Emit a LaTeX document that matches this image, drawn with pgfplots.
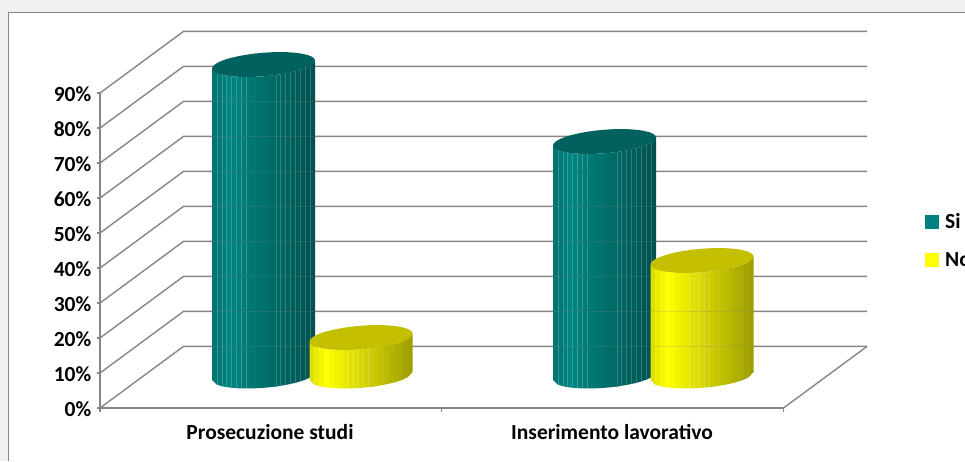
\documentclass[border=0pt]{standalone}
\usepackage{pgfplots}
\usepackage{pgfplotstable}
\usepackage{fontspec}
\setmainfont{Carlito}
\pgfplotsset{compat=1.18}

% Share of respondents per outcome and answer
\pgfplotstableread{
categoria Si No
0 89 11
1 67 33
}\valori

\definecolor{griglia}{HTML}{868686}
\definecolor{cornice}{HTML}{858585}
\definecolor{sfondo}{HTML}{F0F0F0}

% Scale of the oblique drawing: one percent is 3.5 units of height
\def\ypx{3.5}
\def\profx{83.5}   % horizontal depth of the floor
\def\profy{17.6}   % vertical depth of the floor, in percent
\def\basey{9.14}   % level of the centre of the cylinder bases
\def\semix{51.5}   % half width of a cylinder
\def\tilt{4}
\def\flat{11.8}

% #1 centre x, #2 value, #3 #4 #5 wall rgb, #6 #7 #8 cap rgb, #9 seam strength
\newcommand\cilindro[9]{%
  \foreach \i in {0,...,20}{%
    \pgfmathsetmacro\ua{-1+2*\i/21}%
    \pgfmathsetmacro\ub{-1+2*(\i+1)/21}%
    \pgfmathsetmacro\xa{#1+\semix*\ua}%
    \pgfmathsetmacro\xb{#1+\semix*\ub}%
    \pgfmathsetmacro\ya{\basey+(\tilt*\ua-\flat*sqrt(max(0,1-\ua*\ua)))/\ypx}%
    \pgfmathsetmacro\yb{\basey+(\tilt*\ub-\flat*sqrt(max(0,1-\ub*\ub)))/\ypx}%
    \pgfmathsetmacro\yc{\ya+#2}%
    \pgfmathsetmacro\yd{\yb+#2}%
    \pgfmathsetmacro\shade{\i<3 ? 0.88+0.04*\i : (\i<11 ? 1-0.0225*(\i-3) : 0.82-0.022*(\i-11))}%
    \pgfmathsetmacro\cr{#3*\shade}%
    \pgfmathsetmacro\cg{#4*\shade}%
    \pgfmathsetmacro\cb{#5*\shade}%
    \edef\next{\noexpand\addplot[forget plot,draw=none,fill={rgb,1:red,\cr;green,\cg;blue,\cb}]
      coordinates {(\xa,\ya)(\xb,\yb)(\xb,\yd)(\xa,\yc)} --cycle;}%
    \next
    % pale seams between the narrow facets near both edges
    \pgfmathparse{(\i>0 && \i<5) || \i>12 ? 1 : 0}%
    \ifnum\pgfmathresult=1
      \pgfmathsetmacro\lr{\cr*(1-#9)+#9}%
      \pgfmathsetmacro\lg{\cg*(1-#9)+#9}%
      \pgfmathsetmacro\lb{\cb*(1-#9)+#9}%
      \edef\next{\noexpand\addplot[forget plot,line width=0.5pt,color={rgb,1:red,\lr;green,\lg;blue,\lb}]
        coordinates {(\xa,\ya)(\xa,\yc)};}%
      \next
    \fi
  }%
  \def\punti{}%
  \foreach \t in {0,10,...,350}{%
    \pgfmathsetmacro\px{#1+\semix*cos(\t)}%
    \pgfmathsetmacro\py{\basey+#2+(\tilt*cos(\t)+\flat*sin(\t))/\ypx}%
    \xdef\punti{\punti(\px,\py)}%
  }%
  \edef\next{\noexpand\addplot[forget plot,draw=none,fill={rgb,1:red,#6;green,#7;blue,#8}]
    coordinates {\punti} --cycle;}%
  \next
}

\begin{document}
\begin{tikzpicture}[x=1pt,y=1pt]
\useasboundingbox (0pt,0pt) rectangle (965pt,461pt);
% Chart area with its frame, which runs off the right and bottom edges
\fill[sfondo] (0pt,0pt) rectangle (965pt,461pt);
\fill[white] (8.5pt,0pt) rectangle (965pt,448.5pt);
\begin{axis}[
  name=grafico,
  at={(100pt,53pt)}, anchor=south west,
  scale only axis, width=683.5pt, height=315pt,
  xmin=100, xmax=783.5, ymin=0, ymax=90,
  clip=false,
  axis x line=bottom, axis y line=left,
  axis line style={griglia,line width=1.4pt,-},
  every tick/.style={griglia,line width=1.4pt},
  tick align=outside,
  major tick length=3.5pt,
  ytick={0,10,...,90},
  yticklabels={0\%,10\%,20\%,30\%,40\%,50\%,60\%,70\%,80\%,90\%},
  yticklabel style={font=\fontsize{21.5}{21.5}\selectfont\bfseries,inner sep=0pt,xshift=-5pt,yshift=-1.5pt},
  xtick={270,612},
  xticklabels={Prosecuzione studi,Inserimento lavorativo},
  xticklabel style={font=\fontsize{21.5}{21.5}\selectfont\bfseries,inner sep=0pt,yshift=-13pt},
  major x tick style={draw=none},
  minor xtick={100,441.75,783.5},
  minor tick length=4pt,
  legend style={at={(axis cs:925,56.2)},anchor=north west,draw=none,fill=none,
    font=\fontsize{21.5}{21.5}\selectfont\bfseries,row sep=18pt,inner sep=0pt,
    cells={anchor=west}},
  legend image code/.code={\fill[#1] (0pt,-7pt) rectangle (14pt,7pt);\path (0pt,0pt) -- (18pt,0pt);},
]
\addlegendimage{fill={rgb,1:red,0;green,0.502;blue,0.502},draw=none}
\addlegendentry{Si}
\addlegendimage{fill={rgb,1:red,1;green,1;blue,0},draw=none}
\addlegendentry{No}

% Floor and back wall grid
\pgfplotsforeachungrouped \v in {0,10,...,90}{%
  \pgfmathsetmacro\ytop{\v+\profy}%
  \pgfmathsetmacro\xbl{100+\profx}%
  \pgfmathsetmacro\xbr{783.5+\profx}%
  \edef\next{\noexpand\addplot[forget plot,griglia,line width=1.4pt]
    coordinates {(100,\v)(\xbl,\ytop)(\xbr,\ytop)};}%
  \next
}
\addplot[forget plot,griglia,line width=1.4pt] coordinates {(783.5,0)(867,17.6)};

% Cylinders, read from the table
\pgfplotstablegetelem{0}{Si}\of\valori \let\sia\pgfplotsretval
\pgfplotstablegetelem{0}{No}\of\valori \let\noa\pgfplotsretval
\pgfplotstablegetelem{1}{Si}\of\valori \let\sib\pgfplotsretval
\pgfplotstablegetelem{1}{No}\of\valori \let\nob\pgfplotsretval
\cilindro{263.5}{\sia}{0}{0.52}{0.505}{0}{0.38}{0.37}{0.2}
\cilindro{361}{\noa}{1}{1}{0}{0.77}{0.75}{0}{0.07}
\cilindro{604.5}{\sib}{0}{0.52}{0.505}{0}{0.38}{0.37}{0.2}
\cilindro{702}{\nob}{1}{1}{0}{0.77}{0.75}{0}{0.07}

% Grid showing faintly through the walls
\addplot[forget plot,griglia,line width=1pt,opacity=0.22] table {
212 87.6
315 87.6

212 77.6
315 77.6

212 67.6
315 67.6

212 57.6
315 57.6

212 47.6
315 47.6

212 37.6
315 37.6

212 27.6
315 27.6

212 17.6
315 17.6

554 57.6
655 57.6

554 47.6
655 47.6

554 37.6
655 37.6

554 27.6
655 27.6

554 17.6
655 17.6

656 27.6
753 27.6

656 17.6
753 17.6
};
\end{axis}
% Outer frame of the chart area
\draw[cornice,line width=1.5pt] (8.5pt,0pt) -- (8.5pt,448.5pt) -- (965pt,448.5pt);
\end{tikzpicture}
\end{document}
